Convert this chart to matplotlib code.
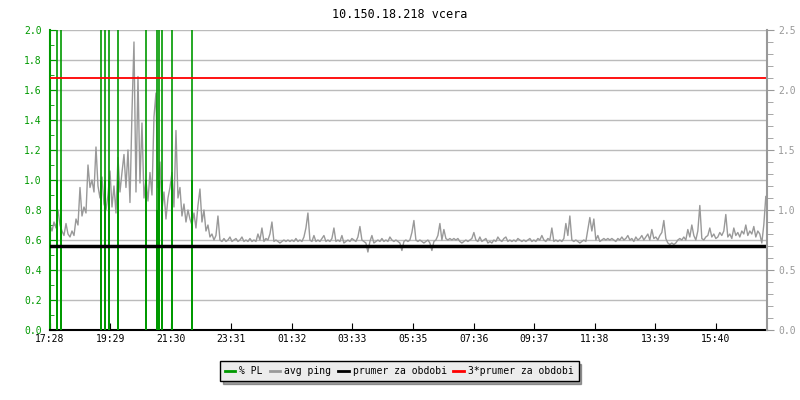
import matplotlib
matplotlib.use("Agg")
import matplotlib.pyplot as plt
import numpy as np
from matplotlib.ticker import MultipleLocator, FormatStrFormatter

plt.rcParams['font.family'] = ['DejaVu Sans Mono']

title = "10.150.18.218 vcera"

# time axis in minutes from 17:28, one ping sample every 4 minutes
step = 4
tick_pos = [0, 121, 242, 363, 484, 605, 727, 848, 969, 1090, 1211, 1332]
tick_lab = ["17:28", "19:29", "21:30", "23:31", "01:32", "03:33",
            "05:35", "07:36", "09:37", "11:38", "13:39", "15:40"]

# avg ping
ping = [
    0.70, 0.66, 0.72, 0.68, 0.80, 0.70, 0.66, 0.63, 0.71, 0.64, 0.62, 0.66, 0.63, 0.74, 0.70, 0.95, 0.76, 0.82, 0.78, 1.10,
    0.95, 1.00, 0.92, 1.22, 0.96, 0.88, 1.02, 0.84, 0.80, 0.90, 1.06, 0.82, 0.96, 0.78, 1.15, 0.92, 1.05, 1.17, 0.95, 1.20,
    0.85, 1.45, 1.92, 0.92, 1.69, 0.98, 1.38, 0.88, 1.00, 0.86, 1.05, 0.90, 1.42, 1.58, 0.95, 1.12, 0.80, 0.92, 0.74, 0.88,
    0.95, 1.05, 0.82, 1.33, 0.88, 0.95, 0.76, 0.84, 0.72, 0.80, 0.74, 0.70, 0.78, 0.68, 0.83, 0.94, 0.72, 0.80, 0.66, 0.70,
    0.62, 0.64, 0.60, 0.63, 0.76, 0.60, 0.59, 0.61, 0.59, 0.60, 0.62, 0.59, 0.60, 0.61, 0.59, 0.60, 0.62, 0.59, 0.60, 0.59,
    0.61, 0.59, 0.60, 0.59, 0.64, 0.60, 0.68, 0.59, 0.61, 0.60, 0.64, 0.72, 0.59, 0.60, 0.59, 0.58, 0.59, 0.60, 0.59, 0.60,
    0.59, 0.60, 0.59, 0.61, 0.59, 0.60, 0.59, 0.62, 0.68, 0.78, 0.60, 0.59, 0.63, 0.59, 0.60, 0.59, 0.61, 0.63, 0.59, 0.60,
    0.59, 0.61, 0.68, 0.59, 0.60, 0.59, 0.63, 0.58, 0.59, 0.60, 0.59, 0.61, 0.60, 0.59, 0.62, 0.69, 0.60, 0.59, 0.58, 0.52,
    0.59, 0.63, 0.58, 0.59, 0.60, 0.59, 0.61, 0.59, 0.60, 0.59, 0.62, 0.60, 0.59, 0.60, 0.59, 0.58, 0.53, 0.59, 0.60, 0.59,
    0.60, 0.65, 0.73, 0.60, 0.59, 0.60, 0.59, 0.58, 0.59, 0.60, 0.58, 0.53, 0.59, 0.60, 0.63, 0.71, 0.60, 0.67, 0.61, 0.60,
    0.61, 0.60, 0.61, 0.60, 0.61, 0.59, 0.58, 0.59, 0.60, 0.59, 0.60, 0.61, 0.65, 0.60, 0.59, 0.62, 0.59, 0.60, 0.61, 0.58,
    0.59, 0.58, 0.60, 0.59, 0.62, 0.60, 0.59, 0.61, 0.62, 0.59, 0.60, 0.59, 0.60, 0.59, 0.61, 0.60, 0.59, 0.60, 0.59, 0.60,
    0.61, 0.59, 0.60, 0.59, 0.61, 0.60, 0.63, 0.60, 0.59, 0.61, 0.60, 0.68, 0.59, 0.60, 0.59, 0.60, 0.59, 0.61, 0.71, 0.63,
    0.76, 0.60, 0.59, 0.60, 0.59, 0.58, 0.59, 0.60, 0.59, 0.67, 0.75, 0.66, 0.74, 0.60, 0.63, 0.59, 0.60, 0.61, 0.60, 0.61,
    0.60, 0.61, 0.60, 0.59, 0.61, 0.60, 0.62, 0.60, 0.61, 0.63, 0.60, 0.61, 0.59, 0.62, 0.60, 0.61, 0.63, 0.60, 0.62, 0.64,
    0.60, 0.67, 0.61, 0.62, 0.60, 0.63, 0.65, 0.73, 0.61, 0.58, 0.57, 0.58, 0.57, 0.58, 0.60, 0.61, 0.60, 0.62, 0.60, 0.67,
    0.62, 0.70, 0.63, 0.60, 0.66, 0.83, 0.61, 0.60, 0.62, 0.63, 0.68, 0.62, 0.64, 0.61, 0.62, 0.65, 0.63, 0.66, 0.77, 0.62,
    0.64, 0.61, 0.68, 0.63, 0.65, 0.62, 0.66, 0.64, 0.70, 0.63, 0.66, 0.64, 0.69, 0.62, 0.66, 0.64, 0.58, 0.70, 0.89,
]
ping_t = np.arange(len(ping)) * step

# packet loss events (minutes from start)
pl_t = [14, 22, 102, 110, 118, 136, 192, 214, 218, 224, 244, 284]
pl_val = [1.0, 1.0, 1.0, 1.0, 1.0, 1.0, 1.0, 0.8, 1.0, 1.0, 1.0, 1.0]

prumer = 0.56
prumer3 = 3 * prumer

green = '#009900'
gray = '#999999'

fig = plt.figure(figsize=(8, 4), dpi=100)
ax = fig.add_axes([0.0625, 0.175, 0.896, 0.75])
ax.set_xlim(0, 1434)
ax.set_ylim(0, 2.0)

ax.yaxis.set_major_locator(MultipleLocator(0.2))
ax.yaxis.set_minor_locator(MultipleLocator(0.1))
ax.yaxis.set_major_formatter(FormatStrFormatter('%.1f'))
ax.grid(axis='y', color='#bbbbbb', lw=1)
ax.set_axisbelow(True)

ax.plot(ping_t, ping, color=gray, lw=1, zorder=2)
ax.vlines(pl_t, 0, 2.0, color=green, lw=1.2, zorder=3)
ax.bar(pl_t, pl_val, width=4.5, color=green, zorder=3)
ax.axhline(prumer, color='black', lw=2.5, zorder=4)
ax.axhline(prumer3, color='red', lw=1.3, zorder=5)

ax.set_xticks(tick_pos)
ax.set_xticklabels(tick_lab)
ax.tick_params(axis='x', direction='in', length=5, color='black', labelsize=7, pad=3)
ax.tick_params(axis='y', which='major', direction='in', length=4, color=green,
               labelcolor=green, labelsize=7, pad=6)
ax.tick_params(axis='y', which='minor', direction='in', length=3, color=green)
ax.spines['top'].set_visible(False)
ax.spines['right'].set_visible(False)
ax.spines['left'].set_color(green)
ax.spines['left'].set_linewidth(1.5)
ax.spines['bottom'].set_color('black')
ax.spines['bottom'].set_linewidth(1.5)

ax2 = ax.twinx()
ax2.set_ylim(0, 2.5)
ax2.yaxis.set_major_locator(MultipleLocator(0.5))
ax2.yaxis.set_minor_locator(MultipleLocator(0.1))
ax2.yaxis.set_major_formatter(FormatStrFormatter('%.1f'))
ax2.tick_params(axis='y', which='major', direction='out', length=5, color=gray,
                labelcolor=gray, labelsize=7, pad=3)
ax2.tick_params(axis='y', which='minor', direction='out', length=4, color=gray)
for s in ['top', 'left', 'bottom']:
    ax2.spines[s].set_visible(False)
ax2.spines['right'].set_color(gray)
ax2.spines['right'].set_linewidth(1.5)

fig.text(0.5, 1 - 14 / 400, title, ha='center', va='center', fontsize=8.5)

handles = [plt.Line2D([], [], color=green, lw=2),
           plt.Line2D([], [], color=gray, lw=2),
           plt.Line2D([], [], color='black', lw=2),
           plt.Line2D([], [], color='red', lw=2)]
labels = ["% PL", "avg ping", "prumer za obdobi", "3*prumer za obdobi"]
leg = fig.legend(handles, labels, loc='center', bbox_to_anchor=(0.499, 0.0725),
                 ncol=4, fontsize=7, frameon=True, fancybox=False, shadow=True,
                 edgecolor='black', facecolor='#ececec', framealpha=1,
                 handlelength=1.1, handletextpad=0.4, columnspacing=0.7,
                 borderpad=0.5)
leg.get_frame().set_linewidth(1)

fig.savefig('out.png', dpi=100)
